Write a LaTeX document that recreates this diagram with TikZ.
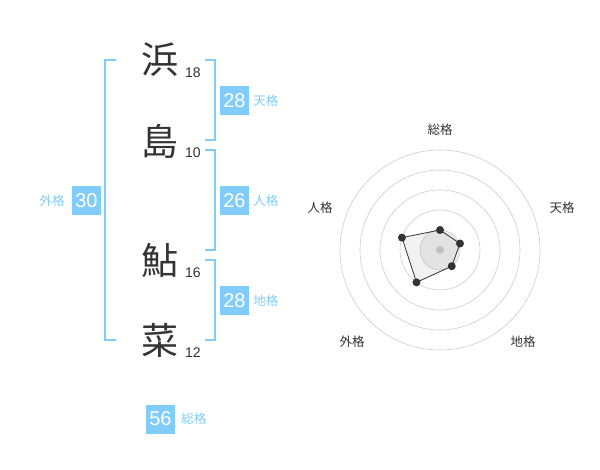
\documentclass[tikz,border=0pt]{standalone}
\usepackage{fontspec}
\setmainfont{Liberation Sans}
\newfontfamily\jp{Noto Sans CJK JP}
\usetikzlibrary{positioning,calc}
\definecolor{kakublue}{RGB}{128,204,250}
\definecolor{ink}{RGB}{51,51,51}
\definecolor{ringgray}{RGB}{204,204,204}
\tikzset{
    kanji/.style={font=\jp\fontsize{37}{37}\selectfont, text=ink, inner sep=0pt},
    strokes/.style={font=\fontsize{14}{14}\selectfont, text=ink,
                    inner sep=0pt, anchor=base west},
    score/.style={fill=kakublue, text=white, minimum size=29pt,
                  inner sep=0pt, font=\fontsize{20}{20}\selectfont},
    kaku/.style={font=\jp\fontsize{12.5}{12.5}\selectfont, text=kakublue, inner sep=0pt},
    bracket/.style={draw=kakublue, line width=2pt},
    axislabel/.style={font=\jp\fontsize{12.5}{12.5}\selectfont, text=ink, inner sep=0pt},
    ring/.style={draw=ringgray, line width=0.6pt},
    dot/.style={circle, fill=ink, inner sep=0pt, minimum size=8pt},
}

\begin{document}
\begin{tikzpicture}[x=1pt, y=-1pt]

    \useasboundingbox (0,0) rectangle (600,470);

    % name and stroke counts
    \node[kanji] (hama) at (160,60) {浜};
    \node[kanji] (shima) at (160,141) {島};
    \node[kanji] (ayu) at (160,260) {鮎};
    \node[kanji] (na) at (160,340) {菜};
    \node[strokes] (hamacount) at (185,78) {18};
    \node[strokes] (shimacount) at (185,158) {10};
    \node[strokes] (ayucount) at (185,278) {16};
    \node[strokes] (nacount) at (185,358) {12};

    % brackets
    \draw[bracket] (116,60) -- (105,60) -- (105,340) -- (116,340);
    \draw[bracket] (205,60) -- (215,60) -- (215,140) -- (205,140);
    \draw[bracket] (205,150) -- (215,150) -- (215,250) -- (205,250);
    \draw[bracket] (205,260) -- (215,260) -- (215,340) -- (205,340);

    % scores
    \node[score] (ten) at (234.5,100.5) {28};
    \node[kaku, right=4pt of ten] {天格};
    \node[score] (jin) at (234.5,200.5) {26};
    \node[kaku, right=4pt of jin] {人格};
    \node[score] (chi) at (234.5,300.5) {28};
    \node[kaku, right=4pt of chi] {地格};
    \node[score] (gai) at (86.5,200.5) {30};
    \node[kaku, left=7pt of gai] {外格};
    \node[score] (so) at (160.5,419) {56};
    \node[kaku, right=6pt of so] {総格};

    % radar chart
    \coordinate (radar) at (440,250);
    \filldraw[ring, fill=gray!12] (radar) circle (20);
    \foreach \r in {40,60,80,100}
        \draw[ring] (radar) circle (\r);
    \fill[ringgray] (radar) circle (4);

    \coordinate (pso) at ($(radar)+(-90:20)$);
    \coordinate (pten) at ($(radar)+(-18:21)$);
    \coordinate (pchi) at ($(radar)+(54:20)$);
    \coordinate (pgai) at ($(radar)+(126:40)$);
    \coordinate (pjin) at ($(radar)+(198:40)$);
    \filldraw[draw=ink, line width=0.8pt, fill=black, fill opacity=0.05]
        (pso) -- (pten) -- (pchi) -- (pgai) -- (pjin) -- cycle;
    \foreach \p in {pso,pten,pchi,pgai,pjin}
        \node[dot] at (\p) {};

    \node[axislabel] (soaxis) at (440,130) {総格};
    \node[axislabel] (tenaxis) at (562,208) {天格};
    \node[axislabel] (jinaxis) at (320,208) {人格};
    \node[axislabel] (gaiaxis) at (352,342) {外格};
    \node[axislabel] (chiaxis) at (523,342) {地格};

\end{tikzpicture}
\end{document}
